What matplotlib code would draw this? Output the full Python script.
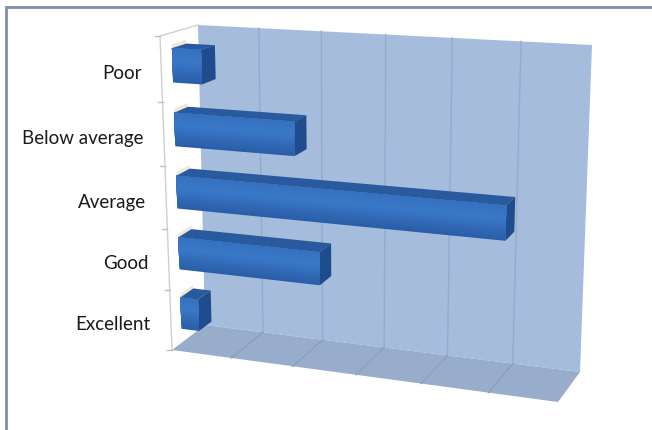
import matplotlib
matplotlib.use('Agg')
import matplotlib.pyplot as plt
import numpy as np

categories = ['Poor', 'Below average', 'Average', 'Good', 'Excellent']
values = [0.47, 1.92, 5.08, 2.3, 0.3]
gridlines = [1, 2, 3, 4, 5]
value_max = 6

# box corners in pixels, (left bottom, right bottom, left top, right top)
front_plane = [(172, 350), (558, 402), (160, 36), (573, 59)]
back_plane = [(205, 325), (580, 372), (198, 25), (592, 45)]
bar_front, bar_back = 0.3, 0.68
bar_width = 0.53


def homography(c):
    # unit square to the four corners
    src = [(0, 0), (1, 0), (0, 1), (1, 1)]
    A, b = [], []
    for (u, v), (x, y) in zip(src, c):
        A.append([u, v, 1, 0, 0, 0, -u * x, -v * x])
        A.append([0, 0, 0, u, v, 1, -u * y, -v * y])
        b += [x, y]
    h = np.linalg.solve(np.array(A, float), np.array(b, float))
    return np.append(h, 1).reshape(3, 3)


H_front = homography(front_plane)
H_back = homography(back_plane)


def proj(v, h, d):
    # v value, h height 0-1 from the floor, d depth 0 front 1 back
    p = np.array([v / value_max, h, 1.0])
    a = H_front @ p
    b = H_back @ p
    return (a[:2] / a[2]) * (1 - d) + (b[:2] / b[2]) * d


def face(ax, pts, color, zorder=2, lw=0):
    pts = np.array(pts)
    ax.fill(pts[:, 0], pts[:, 1], color=color, lw=lw, zorder=zorder)


def mix(c1, c2, t):
    return tuple((1 - t) * np.array(matplotlib.colors.to_rgb(c1)) + t * np.array(matplotlib.colors.to_rgb(c2)))


fig = plt.figure(figsize=(6.52, 4.3), dpi=100)
ax = fig.add_axes([0, 0, 1, 1])
ax.set_xlim(0, 652)
ax.set_ylim(430, 0)
ax.axis('off')

# outer frame, only left and top are in the picture
ax.plot([6, 6, 652], [430, 7, 7], color='#7b8fae', lw=2, solid_joinstyle='miter')

# walls
face(ax, [proj(0, 0, 1), proj(value_max, 0, 1), proj(value_max, 1, 1), proj(0, 1, 1)], '#a5bcdc', 1)
face(ax, [proj(0, 0, 0), proj(value_max, 0, 0), proj(value_max, 0, 1), proj(0, 0, 1)], '#97adcb', 1)

for g in gridlines:
    a, b, c = proj(g, 1, 1), proj(g, 0, 1), proj(g, 0, 0)
    ax.plot([a[0], b[0]], [a[1], b[1]], color='#93abcd', lw=1, zorder=1.5)
    ax.plot([b[0], c[0]], [b[1], c[1]], color='#8a9fbe', lw=1, zorder=1.5)

# side wall edges and ticks
a, b, c = proj(0, 1, 1), proj(0, 1, 0), proj(0, 0, 0)
ax.plot([a[0], b[0], c[0]], [a[1], b[1], c[1]], color='#cfcfcf', lw=1, zorder=1.5)
n = len(categories)
for i in range(n + 1):
    p = proj(0, 1 - i / n, 0)
    ax.plot([p[0] - 5, p[0]], [p[1], p[1]], color='#c0c0c0', lw=1, zorder=1.5)

for i, (name, val) in enumerate(zip(categories, values)):
    mid = 1 - (i + 0.5) / n
    lo, hi = mid - bar_width / n / 2, mid + bar_width / n / 2

    # soft shadow on the side wall
    face(ax, [proj(0, hi, bar_front), proj(0, hi, bar_back), proj(0, hi + 0.012, bar_back),
              proj(0, hi + 0.012, bar_front)], '#efe8da', 1.6)

    # top and end faces
    face(ax, [proj(0, hi, bar_front), proj(val, hi, bar_front), proj(val, hi, bar_back), proj(0, hi, bar_back)],
         '#2a5a9e')
    face(ax, [proj(val, lo, bar_front), proj(val, hi, bar_front), proj(val, hi, bar_back), proj(val, lo, bar_back)],
         '#1f4c8c')

    # front face, shaded in strips painted over each other so no seams show
    strips = 14
    for k in range(strips):
        t0 = k / strips
        h0 = lo + (hi - lo) * t0
        if t0 < 0.6:
            col = mix('#2a5ea8', '#3a78c8', t0 / 0.6)
        else:
            col = mix('#3a78c8', '#3470bd', (t0 - 0.6) / 0.4)
        face(ax, [proj(0, h0, bar_front), proj(val, h0, bar_front), proj(val, hi, bar_front), proj(0, hi, bar_front)],
             col, 3 + k * 0.01)

    p = proj(0, mid, 0)
    ax.text(p[0] - 20, p[1] + 4, name, ha='right', va='center', fontsize=13.5, family='Lato', color='#1a1a1a')

fig.savefig('out.png', dpi=100)
